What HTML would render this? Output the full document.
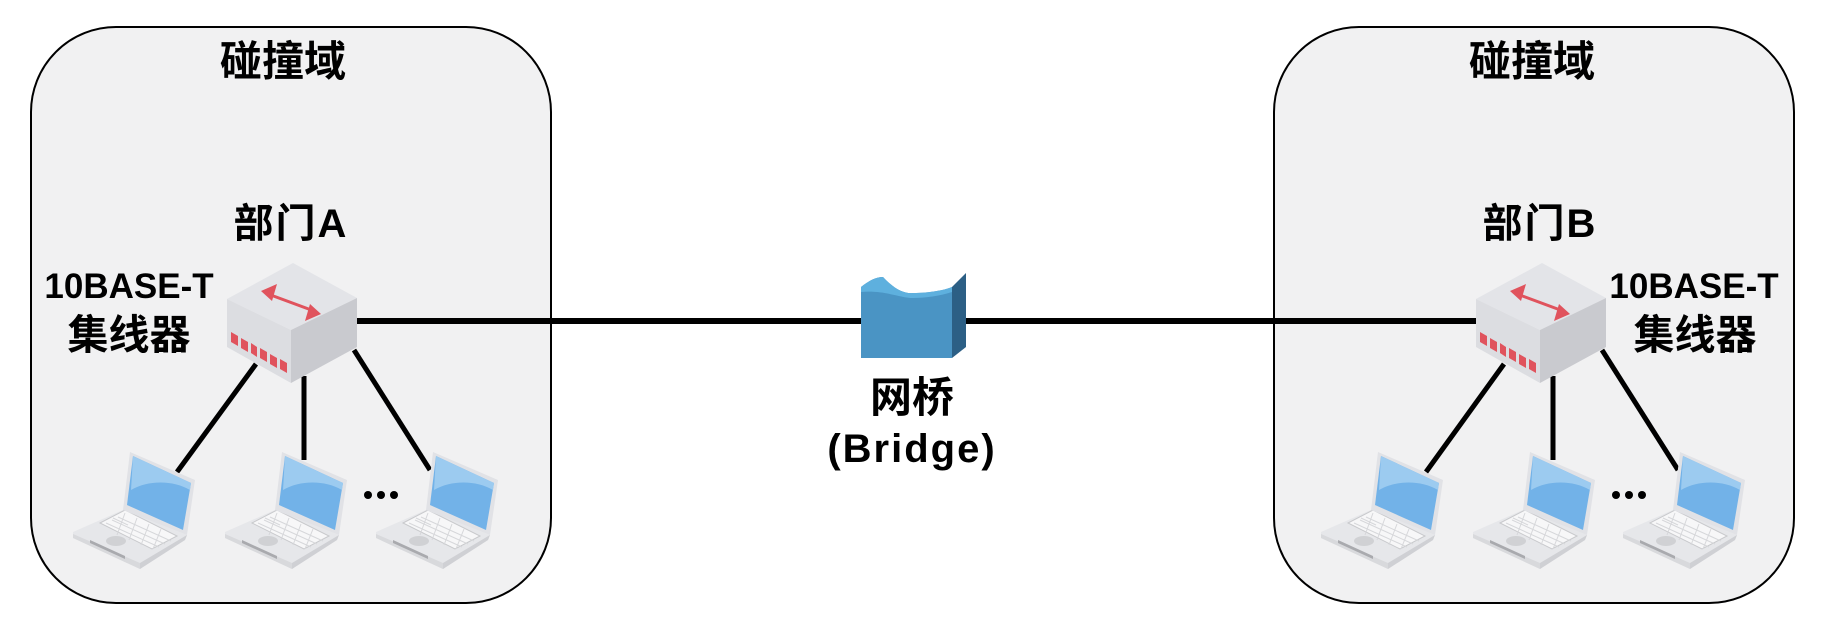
<!DOCTYPE html>
<html><head><meta charset="utf-8"><style>
html,body{margin:0;padding:0;background:#fff}
svg{display:block}
text{font-family:"Liberation Sans","Noto Sans CJK SC",sans-serif;font-weight:bold;fill:#000}
</style></head><body>
<svg width="1826" height="636" viewBox="0 0 1826 636" xmlns="http://www.w3.org/2000/svg">
<defs>
<g id="lap">
<polygon points="0,80 50,58 114,83 112,88 67,117 0,86" fill="#e6e7ea"/>
<polygon points="0,86 67,117 67,111 0,82" fill="#d8d9dc"/>
<polygon points="67,117 112,88 114,83 67,111" fill="#cfd0d4"/>
<polygon points="27,71 52,58 104,84 79,97" fill="#f7f7f8" stroke="#c8c9cc" stroke-width="1"/>
<path d="M33,71 L86,95 M39,68 L92,92 M45,65 L98,89 M40,66 L55,73 M52,61 L44,83 M64,66 L56,88 M76,72 L68,93 M88,77 L80,97" stroke="#d6d7da" stroke-width="1"/>
<ellipse cx="43" cy="89" rx="10" ry="5" fill="#d0d1d4"/>
<polygon points="17,88 52,104 52,107 17,91" fill="#a9aaae"/>
<polygon points="57,0 122,28 114,83 50,58" fill="#e1e2e6"/>
<polygon points="60,4 118,31 110,78 54,53" fill="#72b2e8"/>
<path d="M60,4 L118,31 L117,38 C100,28 75,28 58,38 Z" fill="#9ccbf0"/>
</g>
</defs>
<rect x="31" y="27" width="520" height="576" rx="85" fill="#f1f1f2" stroke="#000" stroke-width="2"/>
<rect x="1274" y="27" width="520" height="576" rx="85" fill="#f1f1f2" stroke="#000" stroke-width="2"/>
<line x1="357" y1="321" x2="1476" y2="321" stroke="#000" stroke-width="6"/>
<g stroke="#000" stroke-width="5">
<line x1="256" y1="364" x2="177" y2="472"/>
<line x1="304" y1="376" x2="304" y2="460"/>
<line x1="354" y1="350" x2="430" y2="470"/>
<line x1="1504" y1="364" x2="1426" y2="472"/>
<line x1="1553" y1="376" x2="1553" y2="460"/>
<line x1="1602" y1="350" x2="1678" y2="470"/>
</g>
<g id="hA">
<polygon points="293,263 357,298 291,330 227,299" fill="#e3e4e8"/>
<polygon points="227,299 291,330 291,383 227,347" fill="#dcdde1"/>
<polygon points="291,330 357,298 357,347 291,383" fill="#c9cacf"/>
<line x1="268" y1="294" x2="314" y2="311" stroke="#e0535d" stroke-width="3"/>
<polygon points="261,291 277,284 272,301" fill="#e0535d"/>
<polygon points="321,314 305,321 310,304" fill="#e0535d"/>
<g fill="#e0535d">
<polygon points="231,332 238,336 238,346 231,342"/>
<polygon points="241,338 248,342 248,352 241,348"/>
<polygon points="251,343 257,347 257,357 251,353"/>
<polygon points="260,348 267,352 267,362 260,358"/>
<polygon points="270,354 277,358 277,368 270,364"/>
<polygon points="280,359 287,363 287,373 280,369"/>
</g>
</g>
<use href="#hA" transform="translate(1249,0)"/>
<use href="#lap" transform="translate(73,452)"/>
<use href="#lap" transform="translate(225,452)"/>
<use href="#lap" transform="translate(376,452)"/>
<use href="#lap" transform="translate(1321,452)"/>
<use href="#lap" transform="translate(1473,452)"/>
<use href="#lap" transform="translate(1623,452)"/>
<g fill="#000">
<circle cx="368" cy="495" r="4"/><circle cx="381" cy="495" r="4"/><circle cx="394" cy="495" r="4"/>
<circle cx="1616" cy="495" r="4"/><circle cx="1629" cy="495" r="4"/><circle cx="1642" cy="495" r="4"/>
</g>
<path d="M861,287 C870,280 876,277 883,277 C895,290 905,294 913,293 C930,293 945,290 952,287 L952,358 L861,358 Z" fill="#4a94c4"/>
<path d="M861,287 C870,280 876,277 883,277 C895,290 905,294 913,293 C930,293 945,290 952,287 L952,292 C940,296 925,298 913,298 C900,298 885,290 861,292 Z" fill="#5eb0de"/>
<polygon points="952,287 966,273 966,347 952,358" fill="#2c5f85"/>
<text x="283" y="76" font-size="42" text-anchor="middle">碰撞域</text>
<text x="1532" y="76" font-size="42" text-anchor="middle">碰撞域</text>
<text x="291" y="237" font-size="40" letter-spacing="2" text-anchor="middle">部门A</text>
<text x="1540" y="237" font-size="40" letter-spacing="2" text-anchor="middle">部门B</text>
<text x="129" y="298" font-size="35" text-anchor="middle">10BASE-T</text>
<text x="129" y="349" font-size="41" text-anchor="middle">集线器</text>
<text x="1694" y="298" font-size="35" text-anchor="middle">10BASE-T</text>
<text x="1695" y="349" font-size="41" text-anchor="middle">集线器</text>
<text x="912" y="412" font-size="42" text-anchor="middle">网桥</text>
<text x="912" y="462" font-size="40" letter-spacing="2" text-anchor="middle">(Bridge)</text>
</svg>
</body></html>
